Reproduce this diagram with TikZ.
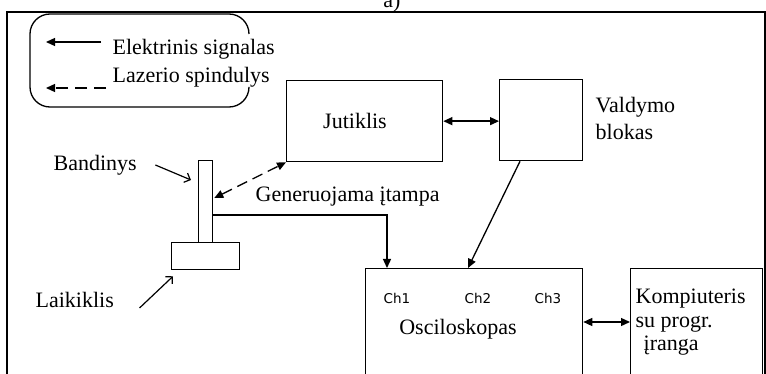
\documentclass[tikz,border=0pt]{standalone}
\usepackage{fontspec}
\setmainfont{Liberation Serif}
\newfontfamily\chfont{DejaVu Sans}
\usetikzlibrary{arrows.meta,calc}
\begin{document}
\begin{tikzpicture}[x=1pt,y=-1pt,
  font=\fontsize{22}{26}\selectfont,
  line width=1.3pt,
  box/.style={draw,line width=1.3pt,inner sep=0pt,anchor=north west},
  lbl/.style={inner sep=0pt},
  chlbl/.style={inner sep=0pt,anchor=base,font=\chfont\fontsize{13.5}{16}\selectfont},
  arr/.style={-{Triangle[length=9pt,width=8pt]}},
  dbl/.style={{Triangle[length=9pt,width=8pt]}-{Triangle[length=9pt,width=8pt]}},
  laser/.style={dbl,dash pattern=on 11pt off 6pt},
  pointer/.style={-{Straight Barb[length=5pt,width=10pt]},line width=1.2pt}]
\useasboundingbox (0,0) rectangle (766,374);
% outer frame and title
\draw[line width=2pt] (7,390) -- (7,12) -- (765,12) -- (765,390);
\node[lbl,anchor=base] (title) at (392,7.5) {a)};
% legend
\draw[line width=1.3pt,rounded corners=20pt] (249,34) -- (249,14) -- (30,14) -- (30,107) -- (249,107) -- (249,88);
\coordinate (l1s) at (101,42); \coordinate (l1e) at (46,42);
\coordinate (l2s) at (106,88); \coordinate (l2e) at (46,88);
\draw[arr] (l1s) -- (l1e);
\draw[-{Triangle[length=9pt,width=8pt]},dash pattern=on 12pt off 7pt] (l2s) -- (l2e);
\node[lbl,anchor=base west] (lg1) at (112,55) {Elektrinis signalas};
\node[lbl,anchor=base west] (lg2) at (112,83) {Lazerio spindulys};
% boxes
\node[box,minimum width=156,minimum height=81] (jut) at (286,80) {};
\node[lbl] (jutt) at (355,121) {Jutiklis};
\node[box,minimum width=83,minimum height=81] (vald) at (499,79) {};
\node[lbl,anchor=base west] (vald1) at (595,113) {Valdymo};
\node[lbl,anchor=base west] (vald2) at (595,140) {blokas};
\node[box,minimum width=217,minimum height=130] (osc) at (365,268) {};
\node[chlbl] (ch1) at (397,303) {Ch1};
\node[chlbl] (ch2) at (478,303) {Ch2};
\node[chlbl] (ch3) at (548,303) {Ch3};
\node[lbl,anchor=base] (osct) at (458,334) {Osciloskopas};
\node[box,minimum width=132,minimum height=130] (komp) at (630,268) {};
\node[lbl,anchor=base west] (komp1) at (635,303) {Kompiuteris};
\node[lbl,anchor=base west] (komp2) at (635,327) {su progr.};
\node[lbl,anchor=base west] (komp3) at (643,350) {įranga};
% specimen and holder
\node[box,minimum width=14,minimum height=82] (bar) at (198,160) {};
\node[box,minimum width=68,minimum height=27] (holder) at (171,242) {};
\node[lbl,anchor=base west] (band) at (53,171) {Bandinys};
\node[lbl,anchor=base west] (laik) at (35,307) {Laikiklis};
\node[lbl,anchor=base west] (gen) at (255,202) {Generuojama įtampa};
% connectors
\draw[dbl] (jut.east) -- (jut.east -| vald.west);
\draw[arr] ($(vald.south west)+(21,0)$) -- ($(osc.north west)+(103,0)$);
\draw[arr] ($(bar.north east)+(0,55)$) -| ($(osc.north west)+(22,0)$);
\draw[laser] ($(bar.north east)+(1,38)$) -- (jut.south west);
\draw[dbl] ($(osc.north east)+(0,54)$) -- ($(komp.north west)+(0,54)$);
\draw[pointer] ($(band.base east)+(18,-6)$) -- ($(bar.north west)+(-7,20)$);
\draw[pointer] ($(laik.base east)+(25,1)$) -- ($(holder.south west)+(2,6)$);
\end{tikzpicture}
\end{document}
